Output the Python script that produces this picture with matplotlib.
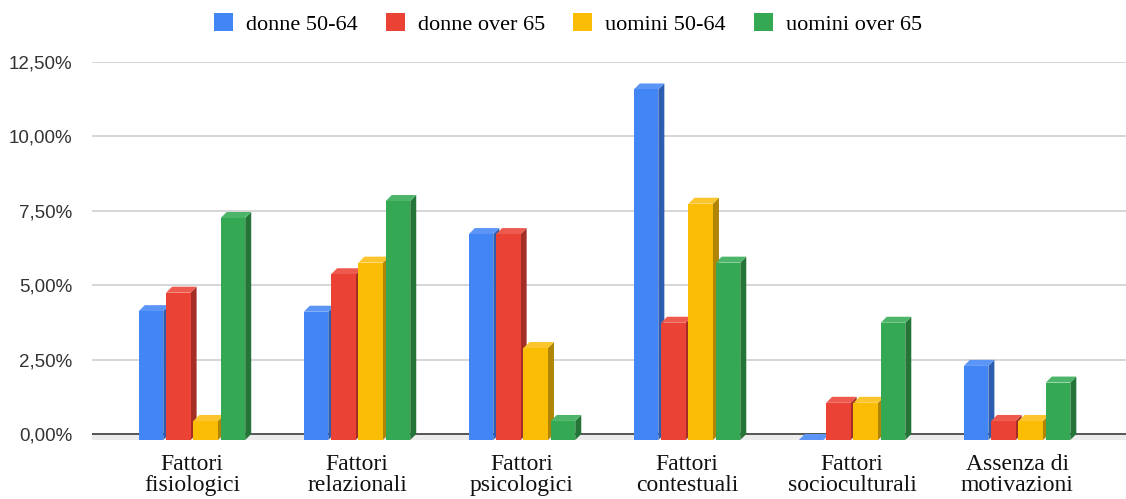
import matplotlib.pyplot as plt
from matplotlib.patches import Polygon, FancyBboxPatch
from matplotlib.ticker import FuncFormatter

# Data (percentages)
categories = ["Fattori\nfisiologici", "Fattori\nrelazionali", "Fattori\npsicologici",
              "Fattori\ncontestuali", "Fattori\nsocioculturali", "Assenza di\nmotivazioni"]
series_names = ["donne 50-64", "donne over 65", "uomini 50-64", "uomini over 65"]
donne_50_64 = [4.33, 4.31, 6.92, 11.78, 0.0, 2.49]
donne_over_65 = [4.95, 5.57, 6.92, 3.94, 1.25, 0.64]
uomini_50_64 = [0.64, 5.96, 3.09, 7.94, 1.25, 0.64]
uomini_over_65 = [7.46, 8.03, 0.64, 5.96, 3.94, 1.93]
yticks = [0, 2.5, 5, 7.5, 10, 12.5]

series = [donne_50_64, donne_over_65, uomini_50_64, uomini_over_65]
front = ["#4285F4", "#EA4335", "#FBBC04", "#34A853"]
side = ["#2D5DB0", "#A42E25", "#B08404", "#247537"]
top = ["#5B95F6", "#EE5A4E", "#FCC52E", "#4DB56A"]

fig = plt.figure(figsize=(11.26, 4.99), dpi=100)
ax = fig.add_axes([0.0817, 0.1094, 0.9183, 0.7663])
ax.set_xlim(-0.606, 5.66)
ax.set_ylim(-0.35, 12.5)

dx, dy = 0.0364, 0.2016   # 3D depth in data units (about 6 px each way)
width, step = 0.1485, 0.1655

# grid and floor
for t in yticks[1:]:
    ax.axhline(t, color="#cccccc", lw=1.1, zorder=0)
ax.axhspan(-dy, 0, color="#ececec", lw=0, zorder=0)
ax.axhline(0, color="#555555", lw=1.4, zorder=1)

for i in range(len(categories)):
    for j, vals in enumerate(series):
        v = vals[i]
        xc = i + (j - 1.5) * step
        x0, x1 = xc - width / 2, xc + width / 2
        ax.add_patch(Polygon([(x1, -dy), (x1 + dx, 0), (x1 + dx, v), (x1, v - dy)],
                             closed=True, fc=side[j], ec="none", zorder=2))
        ax.add_patch(Polygon([(x0, v - dy), (x1, v - dy), (x1 + dx, v), (x0 + dx, v)],
                             closed=True, fc=top[j], ec="none", zorder=2))
        ax.bar(xc, v, width=width, bottom=-dy, color=front[j], zorder=2)

for s in ax.spines.values():
    s.set_visible(False)

ax.set_yticks(yticks)
ax.yaxis.set_major_formatter(FuncFormatter(lambda v, p: f"{v:.2f}%".replace(".", ",")))
ax.tick_params(axis="y", length=0, pad=14, labelsize=13.5, labelcolor="#333333")
for lab in ax.get_yticklabels():
    lab.set_fontfamily("Liberation Sans")

ax.set_xticks(range(len(categories)))
ax.set_xticklabels(categories, fontfamily="Liberation Serif", fontsize=17,
                   linespacing=1.02, color="#111111")
ax.tick_params(axis="x", length=0, pad=7)

# legend with rounded squares
handles = [FancyBboxPatch((0, 0), 1, 1, boxstyle="round,pad=0,rounding_size=0.15",
                          fc=c, ec="none") for c in front]
fig.legend(handles, series_names, loc="center", bbox_to_anchor=(0.5045, 0.952),
           ncol=4, frameon=False, prop={"family": "Liberation Serif", "size": 16},
           handlelength=0.85, handleheight=0.85, handletextpad=0.6, columnspacing=1.25)

fig.savefig("out.png", dpi=100)
